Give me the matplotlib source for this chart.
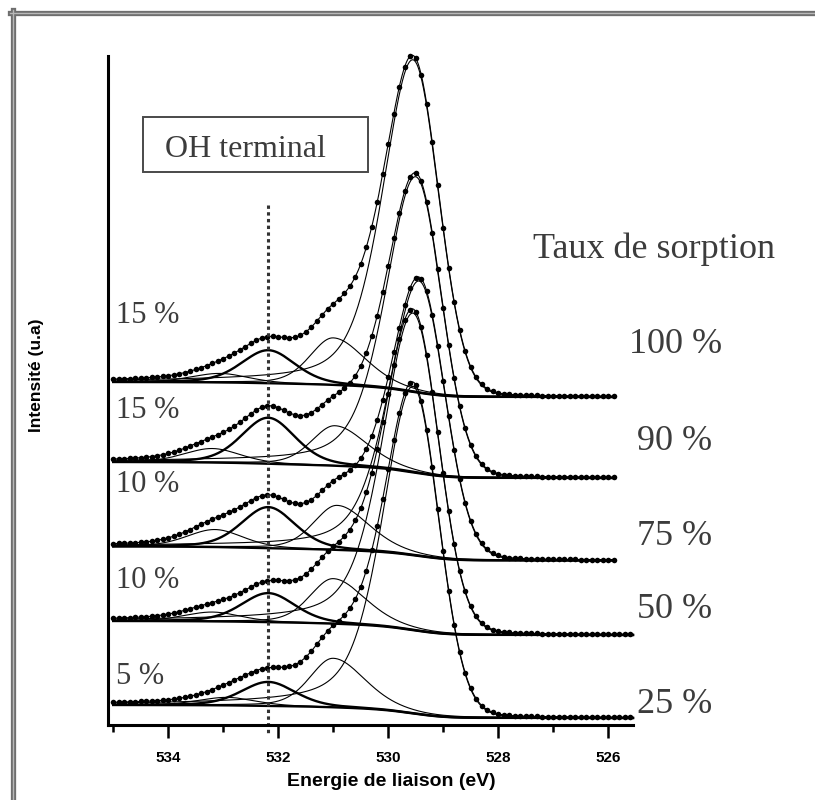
import numpy as np
import matplotlib

matplotlib.use("Agg")
import matplotlib.pyplot as plt
from matplotlib.lines import Line2D
from matplotlib.patches import Rectangle

# O1s spectra, top to bottom (sorption rate)
sorption = ["100 %", "90 %", "75 %", "50 %", "25 %"]
oh_share = ["15 %", "15 %", "10 %", "10 %", "5 %"]

# Shirley background levels (high BE side / low BE side), stacked intensity
bg_left = [343, 263, 178.5, 104, 20]
bg_right = [328, 247, 164.5, 90, 7]
e_start = 535.0
e_end = [525.88, 525.88, 525.88, 525.55, 525.55]

# fitted components: position (eV), height, fwhm high-BE side / low-BE side (eV)
main_pos = [529.55, 529.50, 529.44, 529.55, 529.55]
main_h = [332, 296, 275, 317, 327]
main_w = [(1.3, 1.1)] * 5
c531_pos = [531.00, 530.97, 530.93, 531.00, 531.00]
c531_h = [47, 40, 44.5, 45, 49]
c531_w = [(1.0, 1.35)] * 5
oh_pos = [532.18, 532.18, 532.18, 532.18, 532.18]
oh_h = [33, 46, 41, 29, 24]
oh_w = [(1.15, 1.15)] * 5
c533_pos = [533.06, 533.20, 533.15, 533.20, 532.93]
c533_h = [9, 14, 17.5, 9.3, 8]
c533_w = [(1.2, 1.2)] * 5
# lorentzian fraction on each side
eta_main = (0.45, 0.05)
eta_comp = (0.3, 0.3)

oh_line = 532.18

W, H = 815, 800


def fx(x):
    return x / W


def fy(y):
    return 1 - y / H


def pv(x, c, h, w, eta):
    # asymmetric pseudo-voigt, (high BE side, low BE side)
    ww = np.where(x >= c, w[0], w[1])
    ee = np.where(x >= c, eta[0], eta[1])
    d = (x - c) / ww
    g = np.exp(-4 * np.log(2) * d**2)
    l = 1 / (1 + 4 * d**2)
    return h * (ee * l + (1 - ee) * g)


plt.rcParams["font.family"] = ["Liberation Sans", "DejaVu Sans"]

fig = plt.figure(figsize=(W / 100, H / 100), dpi=100)
ax = fig.add_axes([fx(107.7), fy(725), (633.3 - 107.7) / W, (725 - 56) / H])
ax.set_xlim(535.1, 525.545)
ax.set_ylim(0, 669)

thin = 0.8
bold = 1.7
for i in range(5):
    x = np.arange(e_end[i], e_start + 0.005, 0.01)
    p_main = pv(x, main_pos[i], main_h[i], main_w[i], eta_main)
    p531 = pv(x, c531_pos[i], c531_h[i], c531_w[i], eta_comp)
    p_oh = pv(x, oh_pos[i], oh_h[i], oh_w[i], eta_comp)
    p533 = pv(x, c533_pos[i], c533_h[i], c533_w[i], eta_comp)
    total = p_main + p531 + p_oh + p533
    cum = np.cumsum(total)
    bg = bg_right[i] + (bg_left[i] - bg_right[i]) * cum / cum[-1]

    ax.plot(x, bg, color="black", lw=bold, clip_on=False)
    ax.plot(x, bg + p533, color="black", lw=thin, clip_on=False)
    ax.plot(x, bg + p531, color="black", lw=thin, clip_on=False)
    ax.plot(x, bg + p_oh, color="black", lw=bold, clip_on=False)
    ax.plot(x, bg + p_main, color="black", lw=thin, clip_on=False)
    env = bg + total
    ax.plot(x, env, color="black", lw=thin, clip_on=False)

    xd = np.arange(e_start, e_end[i] - 0.001, -0.1)
    yd = np.interp(xd, x, env)
    ax.plot(xd, yd, "o", color="black", ms=4.0, mew=0, clip_on=False)

ax.plot([oh_line, oh_line], [520, -8], color="#333333", lw=2.2,
        linestyle=(0, (1.1, 1.1)), clip_on=False)

for s in ["top", "right"]:
    ax.spines[s].set_visible(False)
for s in ["left", "bottom"]:
    ax.spines[s].set_linewidth(2.2)
ax.set_yticks([])
ax.set_xticks([534, 532, 530, 528, 526])
ax.set_xticks([535, 533, 531, 529, 527], minor=True)
ax.tick_params(axis="x", which="major", direction="out", length=9.5, width=1.8,
               labelsize=11, pad=9)
ax.tick_params(axis="x", which="minor", direction="out", length=5, width=1.8)
for t in ax.get_xticklabels():
    t.set_fontweight("bold")

fig.text(fx(391), fy(782), "Energie de liaison (eV)", ha="center", va="center",
         fontsize=14, fontweight="bold")
fig.text(fx(37), fy(375), "Intensité (u.a)", ha="center", va="center",
         rotation=90, fontsize=12.5, fontweight="bold")

serif = ["Liberation Serif", "DejaVu Serif"]
grey = "#3c3c3c"
right_x = [629, 637, 637, 637, 637]
right_y = [353, 450, 545, 618, 713]
for lab, xx, yy in zip(sorption, right_x, right_y):
    fig.text(fx(xx), fy(yy), lab, family=serif, fontsize=26, color=grey,
             va="baseline")
left_y = [323, 418, 492, 588, 684]
for lab, yy in zip(oh_share, left_y):
    fig.text(fx(116), fy(yy), lab, family=serif, fontsize=22, color=grey,
             va="baseline")
fig.text(fx(533), fy(258), "Taux de sorption", family=serif, fontsize=26,
         color=grey, va="baseline")

fig.patches.append(Rectangle((fx(143.3), fy(171.7)), (368.3 - 143.3) / W,
                             (171.7 - 116.7) / H, transform=fig.transFigure,
                             fill=False, edgecolor="#4a4a4a", lw=1.4))
fig.text(fx(165), fy(156.7), "OH terminal", family=serif, fontsize=23,
         color=grey, va="baseline")

# outer frame (only top and left edges fall inside the image)
for lw, c in [(3.8, "#6e6e6e"), (1.0, "#b8b8b8")]:
    fig.add_artist(Line2D([fx(12.5), fx(12.5)], [fy(10), fy(800)], lw=lw,
                          color=c, transform=fig.transFigure))
    fig.add_artist(Line2D([fx(10), fx(815)], [fy(12.5), fy(12.5)], lw=lw,
                          color=c, transform=fig.transFigure))

fig.savefig("out.png", dpi=100)
